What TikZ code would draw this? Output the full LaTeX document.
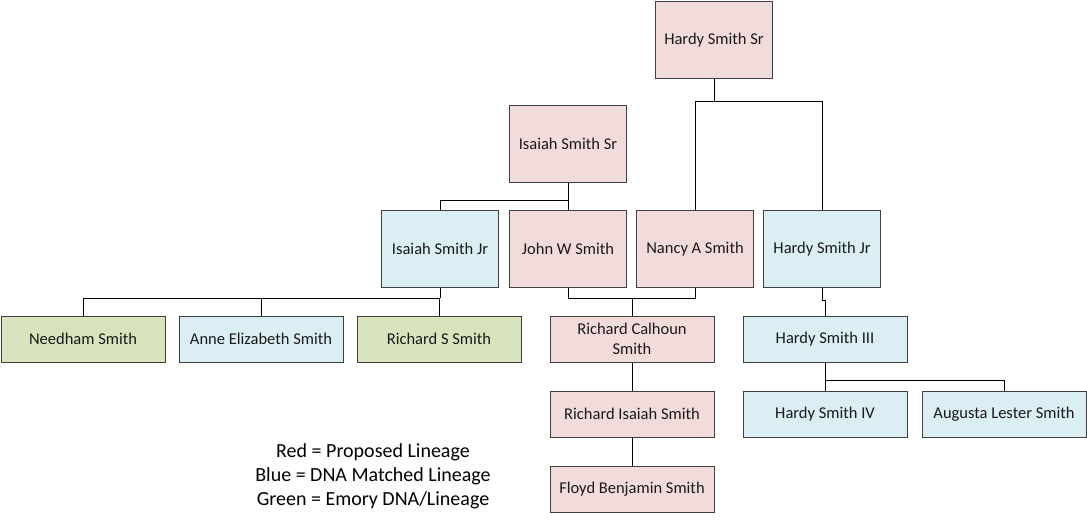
\documentclass[tikz,border=0pt]{standalone}
\usepackage{fontspec}
\setmainfont{Carlito}
\usepackage{xcolor}
\usepackage{tikz}
\usetikzlibrary{positioning}
\definecolor{redbox}{RGB}{242,220,219}
\definecolor{bluebox}{RGB}{219,238,244}
\definecolor{greenbox}{RGB}{215,228,189}
\definecolor{boxline}{RGB}{64,64,64}
\tikzset{
	every path/.style={thin, black},
	person/.style={
		rectangle, draw=boxline, line width=1pt,
		align=center, text=black!90, font=\fontsize{16.5}{20}\selectfont
	},
	tallnode/.style={person, minimum width=117pt, minimum height=77pt},
	widenode/.style={person, minimum width=164pt, minimum height=46pt},
	red/.style={fill=redbox},
	blue/.style={fill=bluebox},
	green/.style={fill=greenbox}
}

\begin{document}
\begin{tikzpicture}[x=1pt, y=-1pt,
	legend/.style={align=center, font=\fontsize{20}{24}\selectfont}
	]
	\useasboundingbox (0,0) rectangle (1087,522);
	
	%Nodes
	\node[tallnode, red]    (hardysr)  at (714,40)  {Hardy Smith Sr};
	\node[tallnode, red]    (isaiahsr) at (568,144) {Isaiah Smith Sr};
	\node[tallnode, blue]   (isaiahjr) at (440,249) {Isaiah Smith Jr};
	\node[tallnode, red]    (johnw)    at (568,249) {John W Smith};
	\node[tallnode, red]    (nancy)    at (695,249) {Nancy A Smith};
	\node[tallnode, blue]   (hardyjr)  at (822,249) {Hardy Smith Jr};
	\node[widenode, green]  (needham)  at (83,339)  {Needham Smith};
	\node[widenode, blue]   (anne)     at (261,339) {Anne Elizabeth Smith};
	\node[widenode, green]  (richards) at (439,339) {Richard S Smith};
	\node[widenode, red]    (calhoun)  at (632,339) {Richard Calhoun\\Smith};
	\node[widenode, blue]   (hardyiii) at (825,339) {Hardy Smith III};
	\node[widenode, red]    (richardi) [below=28pt of calhoun]  {Richard Isaiah Smith};
	\node[widenode, blue]   (hardyiv)  [below=28pt of hardyiii] {Hardy Smith IV};
	\node[widenode, blue]   (augusta)  [right=14pt of hardyiv]  {Augusta Lester Smith};
	\node[widenode, red]    (floyd)    [below=28pt of richardi] {Floyd Benjamin Smith};
	
	%Legend
	\node[legend] (key) at (373,476) {Red = Proposed Lineage\\Blue = DNA Matched Lineage\\Green = Emory DNA/Lineage};
	
	%Lines
	\draw (hardysr.south) -- ++(0,22) coordinate (hbus);
	\draw (hbus) -| (nancy.north);
	\draw (hbus) -| (hardyjr.north);
	
	\draw (isaiahsr.south) -- (johnw.north);
	\draw (isaiahsr.south) -- ++(0,17) -| (isaiahjr.north);
	
	\draw (isaiahjr.south) -- ++(0,10) coordinate (ibus);
	\draw (ibus) -| (needham.north);
	\draw (ibus) -| (anne.north);
	\draw (ibus) -| (richards.north);
	
	\draw (johnw.south) -- ++(0,10) coordinate (jbus) -| (nancy.south);
	\draw (jbus -| calhoun.north) -- (calhoun.north);
	
	\draw (hardyjr.south) -- ++(0,12) -| (hardyiii.north);
	
	\draw (hardyiii.south) -- ++(0,18) coordinate (hbus3);
	\draw (hbus3) -- (hardyiv.north);
	\draw (hbus3) -| (augusta.north);
	
	\draw (calhoun.south) -- (richardi.north);
	\draw (richardi.south) -- (floyd.north);
\end{tikzpicture}
\end{document}
